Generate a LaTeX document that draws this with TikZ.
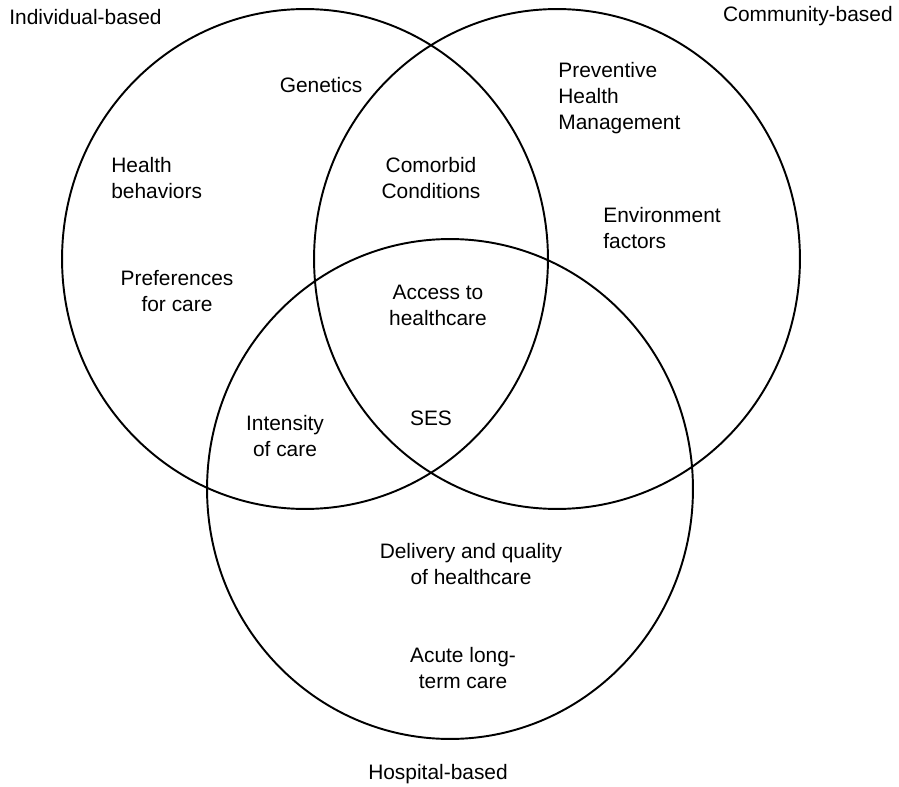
\documentclass[tikz,border=0pt]{standalone}
\usepackage{fontspec}
\setmainfont{Liberation Sans}
\usepackage{tikz}
\usetikzlibrary{shapes.geometric, positioning}

\begin{document}
\begin{tikzpicture}[
    x=0.02cm, y=-0.02cm,
    set/.style={ellipse, draw=black, line width=1.1pt, inner sep=0pt,
                minimum width=9.72cm, minimum height=10cm},
    label/.style={font=\fontsize{11.9}{14.8}\selectfont, inner sep=0pt, align=center},
    lefttext/.style={label, align=left, anchor=west},
]
    \useasboundingbox (0,0) rectangle (899,787);

    % the three sets
    \node[set] (indiv) at (305,259) {};
    \node[set] (comm)  at (557,259) {};
    \node[set] (hosp)  at (450,489) {};

    % set titles
    \node[lefttext] (indivtitle) at (9,17) {Individual-based};
    \node[label, anchor=east] (commtitle) at (893,16) {Community-based};
    \node[label] (hosptitle) at (438,774) {Hospital-based};

    % Individual only
    \node[label] (genetics) at (321,85) {Genetics};
    \node[lefttext] (behav) at (111,178) {Health\\behaviors};
    \node[label] (prefs) at (177,291) {Preferences\\for care};

    % Community only
    \node[lefttext] (prevent) at (558,98) {Preventive\\Health\\Management};
    \node[lefttext] (environ) at (603,228) {Environment\\factors};

    % overlaps
    \node[label] (comorbid) at (431,178) {Comorbid\\Conditions};
    \node[label] (access) at (438,305) {Access to\\healthcare};
    \node[label] (ses) at (431,418) {SES};
    \node[label] (intensity) at (285,436) {Intensity\\of care};

    % Hospital only
    \node[label] (delivery) at (471,564) {Delivery and quality\\of healthcare};
    \node[label] (acute) at (463,668) {Acute long-\\term care};

\end{tikzpicture}
\end{document}
